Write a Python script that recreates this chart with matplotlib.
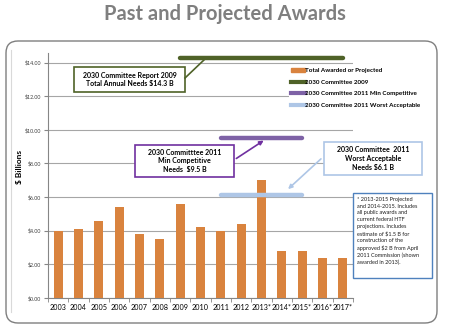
import matplotlib
matplotlib.use("Agg")
import matplotlib.pyplot as plt
from matplotlib.lines import Line2D
from matplotlib.patches import Patch, Rectangle, FancyBboxPatch, FancyArrowPatch

# ── datos ────────────────────────────────────────────────────────────────
years = ["2003", "2004", "2005", "2006", "2007", "2008", "2009", "2010",
         "2011", "2012", "2013*", "2014*", "2015*", "2016*", "2017*"]
awarded = [4.0, 4.1, 4.6, 5.4, 3.8, 3.5, 5.6, 4.2,
           4.0, 4.4, 7.0, 2.8, 2.8, 2.4, 2.4]
needs_2009 = 14.3          # 2009 -> 2017*
min_comp_2011 = 9.5        # 2011 -> 2015*
worst_acc_2011 = 6.1       # 2011 -> 2015*
yticks = [0, 2, 4, 6, 8, 10, 12, 14]

ORANGE = "#D9833E"
GREEN = "#4F6228"
PURPLE = "#7E62A6"
PURPLE_BOX = "#7030A0"
LBLUE = "#AEC6E6"
BLUE_BOX = "#4F81BD"

plt.rcParams["font.family"] = ["Lato", "DejaVu Sans"]

W, H = 450, 336
fig = plt.figure(figsize=(W / 100, H / 100), dpi=100)
IN = fig.dpi_scale_trans


def P(x, y):
    """pixel (origen arriba-izq) -> pulgadas (origen abajo-izq)"""
    return x / 100, (H - y) / 100


# marco redondeado + linea interior tenue
fig.add_artist(FancyBboxPatch(P(6, 323), 4.31, 2.82, transform=IN,
                              boxstyle="round,pad=0,rounding_size=0.12",
                              fc="none", ec="#7F7F7F", lw=1.0, zorder=0))
fig.add_artist(Line2D([0.11, 0.11], [(H - 312) / 100, (H - 50) / 100],
                      transform=IN, color="#D9D9D9", lw=0.8, zorder=0))

fig.text(0.5, 1 - 14 / H, "Past and Projected Awards", ha="center",
         va="center", fontsize=14.5, fontweight="bold", color="#7F7F7F")

# ── eje principal ────────────────────────────────────────────────────────
ax = fig.add_axes([48 / W, (H - 298) / H, 305 / W, 245 / H])
x = list(range(len(years)))
ax.bar(x, awarded, width=0.43, color=ORANGE, zorder=3)

ax.plot([6, 14], [needs_2009] * 2, color=GREEN, lw=3.2,
        solid_capstyle="round", zorder=4)
ax.plot([8, 12], [min_comp_2011] * 2, color=PURPLE, lw=3.2,
        solid_capstyle="round", zorder=4)
ax.plot([8, 12], [worst_acc_2011] * 2, color=LBLUE, lw=3.2,
        solid_capstyle="round", zorder=4)

ax.set_xlim(-0.5, len(years) - 0.5)
ax.set_ylim(0, 14.57)
ax.set_yticks(yticks)
ax.set_yticklabels([f"${v:.2f}" for v in yticks], fontsize=3.8,
                   color="#404040")
ax.set_xticks(x)
ax.set_xticklabels(years, fontsize=5.2)
ax.set_xticks([i - 0.5 for i in range(len(years) + 1)], minor=True)
ax.tick_params(axis="x", which="major", length=0, pad=4)
ax.tick_params(axis="x", which="minor", length=3, color="#868686")
ax.tick_params(axis="y", length=3, color="#868686", pad=2)
ax.grid(axis="y", color="#A6A6A6", lw=0.8, zorder=0)
for s in ("top", "right"):
    ax.spines[s].set_visible(False)
for s in ("left", "bottom"):
    ax.spines[s].set_color("#868686")
    ax.spines[s].set_linewidth(0.8)
ax.patch.set_alpha(0)

fig.text(*P(19, 167), "$ Billions", transform=IN, rotation=90,
         ha="center", va="center", fontsize=6, fontweight="bold")

# leyenda
handles = [Patch(color=ORANGE),
           Line2D([], [], color=GREEN, lw=3),
           Line2D([], [], color=PURPLE, lw=3),
           Line2D([], [], color=LBLUE, lw=3)]
labels = ["Total Awarded or Projected", "2030 Committee 2009",
          "2030 Committee 2011 Min Competitive",
          "2030 Committee 2011 Worst Acceptable"]
leg = fig.legend(handles, labels, loc="upper left",
                 bbox_to_anchor=P(289, 66), bbox_transform=IN,
                 prop={"size": 4.5, "weight": "bold"}, frameon=True,
                 handlelength=2.2, handletextpad=0.1, labelspacing=1.02,
                 borderpad=0.3, borderaxespad=0, handleheight=0.6)
leg.get_frame().set_edgecolor("none")
leg.get_frame().set_facecolor("white")
leg.get_frame().set_alpha(1)


# ── cajas de anotacion ──────────────────────────────────────────────────
def caja(x0, y0, x1, y1, ec, lw=1.0):
    fig.add_artist(Rectangle(P(x0, y1), (x1 - x0) / 100, (y1 - y0) / 100,
                             transform=IN, fc="white", ec=ec, lw=lw,
                             zorder=6))


caja(74, 67, 185, 92, GREEN, 1.2)
fig.text(*P(129.5, 79.5), "2030 Committee Report 2009\nTotal Annual Needs $14.3 B",
         transform=IN, ha="center", va="center", fontsize=5,
         fontweight="bold", linespacing=1.3, zorder=7)
fig.add_artist(Line2D([1.85, 2.05], [(H - 78) / 100, (H - 59) / 100],
                      transform=IN, color=GREEN, lw=1.2, zorder=6))

caja(135, 145, 234, 177, PURPLE_BOX, 1.2)
fig.text(*P(184.5, 161), "2030 Committtee 2011\nMin Competitive\nNeeds  $9.5 B",
         transform=IN, ha="center", va="center", fontsize=5,
         fontweight="bold", linespacing=1.3, zorder=7)
fig.add_artist(FancyArrowPatch(P(234, 160), P(266, 139), transform=IN,
                               arrowstyle="-|>", mutation_scale=6,
                               color=PURPLE_BOX, lw=1.2, zorder=6))

caja(324, 142, 422, 175, LBLUE, 1.2)
fig.text(*P(373, 158.5), "2030 Committee  2011\nWorst Acceptable\nNeeds $6.1 B",
         transform=IN, ha="center", va="center", fontsize=5,
         fontweight="bold", linespacing=1.3, zorder=7)
fig.add_artist(FancyArrowPatch(P(323, 157), P(286, 191), transform=IN,
                               arrowstyle="-|>", mutation_scale=6,
                               color=LBLUE, lw=1.2, zorder=6))

caja(353, 193, 432, 278, BLUE_BOX, 1.0)
fig.text(*P(357, 197), "* 2013-2015 Projected\nand 2014-2015. Includes\n"
         "all public awards and\ncurrent federal HTF\nprojections. Includes\n"
         "estimate of $1.5 B for\nconstruction of the\napproved $2 B from April\n"
         "2011 Commission (shown\nawarded in 2013).",
         transform=IN, ha="left", va="top", fontsize=4, linespacing=1.42,
         color="#1F1F1F", zorder=7)

fig.savefig("out.png", dpi=100)
